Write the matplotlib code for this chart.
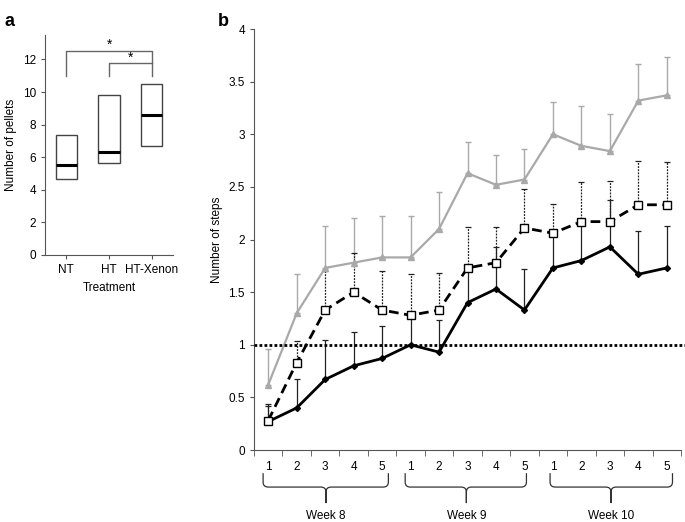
import matplotlib.pyplot as plt
import numpy as np
from matplotlib.path import Path
from matplotlib.patches import PathPatch

# panel a data
treatments = ['NT', 'HT', 'HT-Xenon']
box_low = [4.66, 5.66, 6.69]
box_high = [7.36, 9.82, 10.49]
box_median = [5.54, 6.34, 8.59]

# panel b data
sessions = ['1', '2', '3', '4', '5'] * 3
weeks = ['Week 8', 'Week 9', 'Week 10']
black_mean = [0.27, 0.40, 0.67, 0.80, 0.87, 1.00, 0.93, 1.40, 1.53, 1.33, 1.73, 1.80, 1.93, 1.67, 1.73]
black_top = [0.44, 0.67, 1.05, 1.12, 1.18, 1.27, 1.24, 1.72, 1.93, 1.72, 2.07, 2.17, 2.38, 2.08, 2.13]
square_mean = [0.28, 0.83, 1.33, 1.50, 1.33, 1.28, 1.33, 1.73, 1.78, 2.11, 2.06, 2.17, 2.17, 2.33, 2.33]
square_top = [0.42, 1.04, 1.70, 1.87, 1.70, 1.67, 1.68, 2.12, 2.12, 2.48, 2.34, 2.55, 2.56, 2.75, 2.74]
gray_mean = [0.62, 1.30, 1.73, 1.78, 1.83, 1.83, 2.10, 2.63, 2.52, 2.57, 3.00, 2.89, 2.84, 3.32, 3.37]
gray_top = [0.96, 1.67, 2.13, 2.20, 2.22, 2.22, 2.45, 2.93, 2.80, 2.86, 3.31, 3.27, 3.19, 3.67, 3.73]

gray = '#a9a9a9'
axcol = '#555555'
plt.rcParams['font.family'] = ['Liberation Sans', 'DejaVu Sans']

fig = plt.figure(figsize=(6.85, 5.22), dpi=100)

# ---------- panel a ----------
ax1 = fig.add_axes([0.0657, 0.5115, 0.1869, 0.4215])
pos = np.arange(1, 4)
heights = np.array(box_high) - np.array(box_low)
ax1.bar(pos, heights, bottom=box_low, width=0.5, fill=False, edgecolor='#444444', linewidth=1)
ax1.hlines(box_median, pos - 0.25, pos + 0.25, color='black', linewidth=2.2)
# significance brackets
ax1.plot([1, 1, 3, 3], [11.0, 12.5, 12.5, 11.0], color='#666666', lw=1)
ax1.plot([2, 2, 3], [11.0, 11.75, 11.75], color='#666666', lw=1)
ax1.text(2, 12.45, '*', ha='center', va='bottom', fontsize=10)
ax1.text(2.5, 11.7, '*', ha='center', va='bottom', fontsize=10)
ax1.set_xlim(0.5, 3.5)
ax1.set_ylim(0, 13.5)
ax1.set_yticks(np.arange(0, 13, 2))
ax1.set_xticks(pos)
ax1.set_xticklabels(treatments)
ax1.set_xlabel('Treatment', fontsize=8.5)
ax1.set_ylabel('Number of pellets', fontsize=8.5)
for s in ['top', 'right']:
    ax1.spines[s].set_visible(False)
for s in ['left', 'bottom']:
    ax1.spines[s].set_color(axcol)
ax1.tick_params(labelsize=8.5, length=3, color=axcol)
fig.text(0.007, 0.975, 'a', fontsize=13, fontweight='bold', va='top')

# ---------- panel b ----------
ax2 = fig.add_axes([0.3708, 0.1379, 0.6234, 0.8065])
x = np.arange(1, 16)

def up_err(ax, mean, top, color, ls, lw, z):
    eb = ax.errorbar(x, mean, yerr=[np.zeros(len(mean)), np.array(top) - np.array(mean)],
                     fmt='none', ecolor=color, elinewidth=lw, capsize=2.5, capthick=lw, zorder=z)
    eb[2][0].set_linestyle(ls)

up_err(ax2, gray_mean, gray_top, gray, '-', 1.0, 1)
up_err(ax2, black_mean, black_top, '#222222', '-', 0.9, 2)
up_err(ax2, square_mean, square_top, '#222222', (0, (1.5, 1)), 0.9, 2)

ax2.plot(x, gray_mean, color=gray, lw=1.6, marker='^', ms=4, mfc=gray, mec=gray, zorder=3)
ax2.plot(x, black_mean, color='black', lw=2, marker='D', ms=3, mfc='black', mec='black', zorder=4)
ax2.plot(x, square_mean, color='black', lw=2, ls=(0, (3.5, 2)), marker='s', ms=6,
         mfc='white', mec='black', mew=1, zorder=5)
ax2.axhline(1, color='black', lw=2, ls=(0, (1, 0.8)), xmax=1.01, clip_on=False, zorder=6)

ax2.set_xlim(0.5, 15.5)
ax2.set_ylim(0, 4)
ax2.set_yticks(np.arange(0, 4.01, 0.5))
ax2.set_yticklabels(['%g' % v for v in np.arange(0, 4.01, 0.5)])
ax2.set_xticks(x)
ax2.set_xticklabels(sessions)
ax2.set_xticks(np.arange(0.5, 16, 1), minor=True)
ax2.tick_params(axis='x', which='major', length=0, pad=8, labelsize=8.5)
ax2.tick_params(axis='x', which='minor', length=4, color=axcol)
ax2.tick_params(axis='y', length=3, labelsize=8.5, color=axcol)
ax2.set_ylabel('Number of steps', fontsize=8.5)
for s in ['top', 'right']:
    ax2.spines[s].set_visible(False)
for s in ['left', 'bottom']:
    ax2.spines[s].set_color(axcol)

# week braces under the axis
brace_spans = [(0.82, 5.22, 3.03), (5.81, 10.07, 7.96), (10.9, 15.2, 13.04)]
y_top, y_mid, y_tip, r = -0.055, -0.088, -0.126, 0.012
trans = ax2.get_xaxis_transform()
for (x0, x1, xc), wk in zip(brace_spans, weeks):
    dx = 0.18
    verts = [(x0, y_top), (x0, y_mid + r), (x0, y_mid), (x0 + dx, y_mid),
             (xc - dx, y_mid), (xc, y_mid), (xc, y_mid - r),
             (xc, y_tip), (xc, y_tip),
             (xc, y_mid - r), (xc, y_mid), (xc + dx, y_mid),
             (x1 - dx, y_mid), (x1, y_mid), (x1, y_mid + r), (x1, y_top)]
    codes = [Path.MOVETO, Path.LINETO, Path.CURVE3, Path.CURVE3,
             Path.LINETO, Path.CURVE3, Path.CURVE3,
             Path.LINETO, Path.MOVETO,
             Path.LINETO, Path.CURVE3, Path.CURVE3,
             Path.LINETO, Path.CURVE3, Path.CURVE3, Path.LINETO]
    patch = PathPatch(Path(verts, codes), transform=trans, fill=False,
                      edgecolor='#333333', lw=0.9, clip_on=False)
    ax2.add_patch(patch)
    ax2.text(xc, -0.157, wk, transform=trans, ha='center', va='center', fontsize=8.5)

fig.text(0.318, 0.975, 'b', fontsize=13, fontweight='bold', va='top')

fig.savefig('out.png', dpi=100)
